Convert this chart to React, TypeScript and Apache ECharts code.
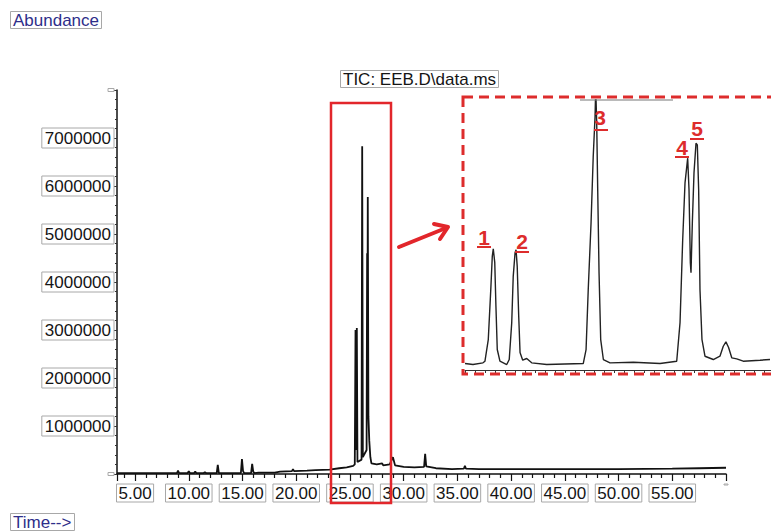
import React, { useEffect, useRef } from "react";
import * as echarts from "echarts";

// Main chromatogram (retention time in minutes, abundance)
const mainTime = [
  3.32, 5.0, 7.5, 8.9, 9.0, 9.1, 9.9, 10.0, 10.1, 10.5,
  10.6, 10.7, 11.4, 11.5, 11.6, 12.6, 12.7, 12.8, 14.85, 14.95,
  15.05, 15.15, 15.8, 15.9, 16.0, 16.1, 16.5, 18.0, 18.5, 19.6,
  19.7, 19.8, 21.0, 21.8, 23.1, 24.0, 24.7, 25.3, 25.45, 25.52,
  25.58, 25.64, 25.7, 26.08, 26.14, 26.2, 26.55, 26.6, 26.63, 26.66,
  26.72, 26.8, 26.9, 27.0, 27.5, 28.0, 28.1, 28.7, 29.0, 29.2,
  30.0, 31.0, 31.9, 32.0, 32.1, 33.0, 34.5, 35.6, 35.7, 35.8,
  37.0, 40.0, 45.0, 50.0, 55.0, 57.5, 60.0,
];
const mainAbundance = [
  20000, 20000, 20000, 20000, 70000, 20000, 20000, 60000, 20000, 20000,
  50000, 20000, 20000, 40000, 20000, 20000, 190000, 20000, 20000, 310000,
  60000, 20000, 20000, 210000, 50000, 20000, 30000, 30000, 50000, 60000,
  100000, 60000, 70000, 80000, 90000, 120000, 140000, 170000, 200000, 3000000,
  500000, 3040000, 250000, 300000, 6830000, 350000, 500000, 4600000, 2400000, 5770000,
  1200000, 690000, 350000, 220000, 200000, 220000, 180000, 200000, 350000, 180000,
  150000, 140000, 150000, 420000, 160000, 120000, 100000, 110000, 170000, 110000,
  100000, 100000, 100000, 100000, 110000, 120000, 130000,
];

// Enlarged view of the 25.4 - 27.2 min window
const insetTime = [
  25.38, 25.428, 25.488, 25.5, 25.52, 25.535, 25.544, 25.55, 25.559, 25.566,
  25.574, 25.59, 25.631, 25.646, 25.661, 25.67, 25.681, 25.687, 25.694, 25.703,
  25.711, 25.727, 25.751, 25.781, 25.871, 25.981, 26.091, 26.108, 26.121, 26.138,
  26.151, 26.162, 26.166, 26.172, 26.178, 26.186, 26.196, 26.212, 26.252, 26.392,
  26.553, 26.653, 26.673, 26.689, 26.703, 26.719, 26.727, 26.735, 26.739, 26.747,
  26.757, 26.769, 26.777, 26.785, 26.793, 26.805, 26.823, 26.873, 26.913, 26.933,
  26.949, 26.965, 26.984, 27.014, 27.053, 27.154, 27.214,
];
const insetAbundance = [
  168000, 142000, 186000, 228000, 789000, 2083000, 2945000, 3144000, 2782000, 1651000,
  531000, 228000, 142000, 272000, 1229000, 2428000, 3041000, 3119000, 2686000, 1392000,
  453000, 254000, 298000, 186000, 142000, 155000, 168000, 531000, 2083000, 3817000,
  5533000, 6568000, 7300000, 6405000, 4671000, 2523000, 789000, 272000, 186000, 202000,
  168000, 228000, 1229000, 3377000, 4853000, 5492000, 4671000, 2782000, 2523000, 3817000,
  5111000, 5880000, 5836000, 4671000, 2083000, 789000, 357000, 272000, 357000, 616000,
  730000, 582000, 316000, 290000, 228000, 254000, 272000,
];

const peakLabels = ["1", "2", "3", "4", "5"];

const FONT = "'Liberation Sans', Arial, sans-serif";
const RED = "#dd2c2c";

export default function App() {
  const ref = useRef<HTMLDivElement>(null);

  useEffect(() => {
    const chart = echarts.init(ref.current!, null, { renderer: "svg" });

    const boxLabel = {
      fontFamily: FONT,
      fontSize: 17,
      color: "#151515",
      borderColor: "#a8a8a8",
      borderWidth: 1,
      padding: [1, 2, 0, 2],
    };
    const boxTitle = (text: string, left: number, top: number, color: string) => ({
      text,
      left,
      top,
      padding: [1, 3, 0, 3],
      borderColor: "#a8a8a8",
      borderWidth: 1,
      textStyle: { fontFamily: FONT, fontSize: 17, fontWeight: "normal", color },
    });

    const labelPos = [
      [484, 237, 477, 491, 247],
      [522, 241, 515, 529, 252],
      [600, 117, 594, 608, 130],
      [682, 147, 675, 689, 157],
      [697, 128, 690, 704, 139],
    ];
    const labelGraphics: any[] = [];
    peakLabels.forEach((t, i) => {
      const [x, y, u1, u2, uy] = labelPos[i];
      labelGraphics.push({
        type: "text",
        x,
        y,
        z: 10,
        style: {
          text: t,
          align: "center",
          verticalAlign: "middle",
          font: `bold 21px ${FONT}`,
          fill: RED,
        },
      });
      labelGraphics.push({
        type: "line",
        z: 10,
        shape: { x1: u1, y1: uy, x2: u2, y2: uy },
        style: { stroke: RED, lineWidth: 2 },
      });
    });

    chart.setOption({
      animation: false,
      backgroundColor: "#ffffff",
      title: [
        boxTitle("Abundance", 10, 11, "#2e2e8a"),
        boxTitle("TIC: EEB.D\\data.ms", 340, 70, "#151515"),
        boxTitle("Time-->", 10, 513, "#2e2e8a"),
      ],
      grid: [
        { left: 117, right: 45, top: 90, bottom: 58 },
        { left: 465, top: 100, width: 306, height: 270 },
      ],
      xAxis: [
        {
          type: "value",
          gridIndex: 0,
          min: 3.32,
          max: 60,
          splitNumber: 12,
          axisLine: { show: true, onZero: false, lineStyle: { color: "#111", width: 1.5 } },
          axisTick: { show: true, length: 7, lineStyle: { color: "#111", width: 1.2 } },
          minorTick: { show: true, splitNumber: 5, length: 4, lineStyle: { color: "#111", width: 1.2 } },
          splitLine: { show: false },
          minorSplitLine: { show: false },
          axisLabel: {
            ...boxLabel,
            margin: 10,
            formatter: (v: number) =>
              Math.abs(v / 5 - Math.round(v / 5)) < 1e-6 && v < 59.5 ? v.toFixed(2) : "",
          },
        },
        {
          type: "value",
          gridIndex: 1,
          min: 25.38,
          max: 27.22,
          interval: 0.06,
          axisLine: { show: true, onZero: false, lineStyle: { color: "#333", width: 1.2 } },
          axisTick: { show: true, length: 3, lineStyle: { color: "#333" } },
          axisLabel: { show: false },
          splitLine: { show: false },
        },
      ],
      yAxis: [
        {
          type: "value",
          gridIndex: 0,
          min: 0,
          max: 8000000,
          interval: 1000000,
          axisLine: { show: true, onZero: false, lineStyle: { color: "#111", width: 1.5 } },
          axisTick: { show: true, length: 3, lineStyle: { color: "#333" } },
          minorTick: { show: true, splitNumber: 5, length: 2, lineStyle: { color: "#333" } },
          splitLine: { show: false },
          minorSplitLine: { show: false },
          axisLabel: {
            ...boxLabel,
            padding: [2, 3, 1, 3],
            margin: 3,
            formatter: (v: number) => (v > 0 && v < 8000000 ? String(v) : ""),
          },
        },
        { type: "value", gridIndex: 1, min: 0, max: 7000000, show: false },
      ],
      series: [
        {
          type: "line",
          xAxisIndex: 0,
          yAxisIndex: 0,
          symbol: "none",
          lineStyle: { color: "#111", width: 1.8 },
          data: mainTime.map((t, i) => [t, mainAbundance[i]]),
        },
        {
          type: "line",
          xAxisIndex: 1,
          yAxisIndex: 1,
          symbol: "none",
          clip: true,
          lineStyle: { color: "#222", width: 1.4 },
          data: insetTime.map((t, i) => [t, insetAbundance[i]]),
        },
      ],
      graphic: [
        {
          type: "rect",
          z: 5,
          shape: { x: 331, y: 103, width: 60, height: 400 },
          style: { fill: "none", stroke: "#e2262b", lineWidth: 2.5 },
        },
        {
          type: "rect",
          z: 5,
          shape: { x: 463, y: 97, width: 320, height: 277 },
          style: { fill: "none", stroke: RED, lineWidth: 3, lineDash: [10, 6] },
        },
        {
          type: "line",
          z: 4,
          shape: { x1: 580, y1: 100, x2: 673, y2: 100 },
          style: { stroke: "#777", lineWidth: 1 },
        },
        {
          type: "line",
          z: 5,
          shape: { x1: 399, y1: 247, x2: 446, y2: 228 },
          style: { stroke: "#e2262b", lineWidth: 4, lineCap: "round" },
        },
        {
          type: "polyline",
          z: 5,
          shape: { points: [[434, 224], [448, 227], [440, 239]] },
          style: { stroke: "#e2262b", fill: "none", lineWidth: 4, lineJoin: "round", lineCap: "round" },
        },
        ...labelGraphics,
      ],
    });

    return () => chart.dispose();
  }, []);

  return (
    <div
      ref={ref}
      style={{ position: "absolute", left: 0, top: 0, width: 771, height: 532 }}
    />
  );
}
